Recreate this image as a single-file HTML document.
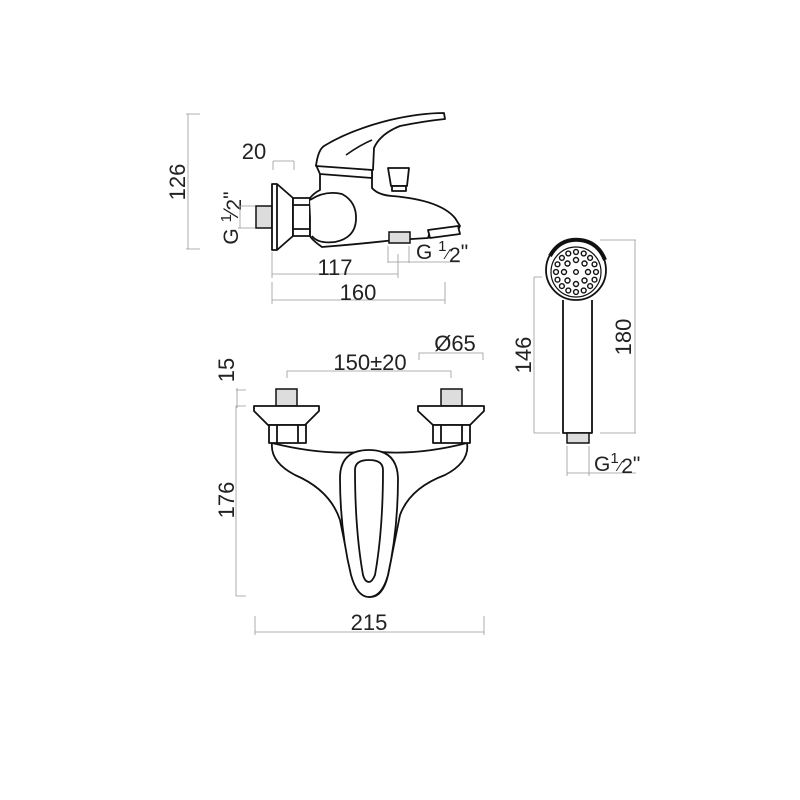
<!DOCTYPE html>
<html><head><meta charset="utf-8"><style>
html,body{margin:0;padding:0;background:#fff;}
svg{display:block;}
text{font-family:"Liberation Sans",Arial,sans-serif;fill:#222;}
.d{stroke:#999;stroke-width:0.8;fill:none;}
.o{stroke:#111;stroke-width:1.8;fill:#fff;stroke-linejoin:round;}
.g{stroke:#111;stroke-width:1.5;fill:#ddd;}
</style></head><body>
<svg width="800" height="800" viewBox="0 0 800 800" xmlns="http://www.w3.org/2000/svg">
<!-- ========== SIDE VIEW ========== -->
<path class="d" d="M186 114H200M188 114V249M186 249H200"/>
<text font-size="22" transform="translate(185,182) rotate(-90)" text-anchor="middle">126</text>
<text x="254" y="159" font-size="22" text-anchor="middle">20</text>
<path class="d" d="M273 161H294M273 161V170M294 161V170"/>
<text font-size="21" transform="translate(238,218) rotate(-90)" text-anchor="middle">G <tspan dy="-7" font-size="15">1</tspan><tspan dy="7">⁄</tspan><tspan dy="3">2</tspan><tspan dy="-3">"</tspan></text>
<path class="d" d="M238 206H256M238 228H256M240 206V228"/>
<path class="d" d="M272 252V278M272 274H398M398 254V278"/>
<text x="335" y="275" font-size="22" text-anchor="middle">117</text>
<path class="d" d="M388 246V263M388 262H460M409 246V263"/>
<text x="416" y="259" font-size="21">G <tspan dy="-8" font-size="15">1</tspan><tspan dy="8" font-size="15">⁄</tspan><tspan dy="3">2</tspan><tspan dy="-3">"</tspan></text>
<path class="d" d="M272 282V304M272 300H445M445 282V304"/>
<text x="358" y="300" font-size="22" text-anchor="middle">160</text>
<rect class="g" x="256" y="206" width="16" height="22"/>
<path class="o" d="M272 184H277L293 198V236L277 250H272Z"/>
<path class="o" d="M277 184V250" />
<rect class="o" x="293" y="198" width="17" height="38"/>
<path class="o" d="M293 205H310M293 229H310"/>
<path class="o" d="M320 172H372V188Q378 195 392 196Q440 200 455 218L460 226L458 230L430 232L428 238L395 240Q360 244 322 247Q312 240 310 236V198Q314 193 320 190Z"/>
<path class="o" d="M310 200Q325 190 342 194Q357 202 356 220Q355 238 335 242Q318 244 312 236"/>
<path class="o" d="M428 230L458 226L460 234L430 238Z"/>
<rect class="g" x="389" y="232" width="21" height="11"/>
<path class="o" d="M388 168H409L407 186H391Z"/>
<rect class="o" x="392" y="186" width="14" height="5"/>
<path class="o" d="M316 165L372 170V178L320 174Z"/>
<path class="o" d="M316 166Q318 150 324 146Q350 130 390 120Q420 113 444 113L445 119Q425 121 400 126Q380 134 374 148L373 170Z"/>
<path d="M346 155Q360 145 372 140" stroke="#111" stroke-width="1.5" fill="none"/>

<!-- ========== FRONT VIEW ========== -->
<text x="370" y="370" font-size="22" text-anchor="middle">150±20</text>
<path class="d" d="M287 378V371H451V378"/>
<text x="455" y="351" font-size="22" text-anchor="middle">Ø65</text>
<path class="d" d="M419 360V353H483V360"/>
<text font-size="22" transform="translate(234,370) rotate(-90)" text-anchor="middle">15</text>
<path class="d" d="M236 390H246M236 406H246M237 388V408"/>
<text font-size="22" transform="translate(234,500) rotate(-90)" text-anchor="middle">176</text>
<path class="d" d="M236 406V596M236 596H246"/>
<path class="d" d="M255 616V635M255 632H484M484 616V635"/>
<text x="369" y="630" font-size="22" text-anchor="middle">215</text>
<path class="o" d="M272 443Q270 462 295 475Q330 490 340 520Q348 560 352 575Q358 597 370 597Q383 597 388 575Q393 550 400 515Q410 488 445 475Q470 462 467 443Q420 455 380 452L360 452Q320 455 272 443Z"/>
<path class="o" d="M340 478Q340 450 369 450Q397 450 398 478Q398 530 388 575Q382 597 369 597Q357 597 351 575Q340 530 340 478Z"/>
<path class="o" d="M355 470Q355 460 369 460Q383 460 383 470Q383 530 375 575Q372 582 369 582Q365 582 363 575Q355 530 355 470Z"/>
<rect class="g" x="276" y="389" width="21" height="17"/>
<path class="o" d="M254 406H319V411L305 425H268L254 411Z"/>
<rect class="o" x="269" y="425" width="37" height="18"/>
<path class="o" d="M277 425V443M298 425V443"/>
<rect class="g" x="441" y="389" width="21" height="17"/>
<path class="o" d="M418 406H484V411L470 425H433L418 411Z"/>
<rect class="o" x="433" y="425" width="37" height="18"/>
<path class="o" d="M441 425V443M462 425V443"/>

<!-- ========== HAND SHOWER ========== -->
<path class="o" d="M563 300V433H592V300"/>
<circle class="o" cx="576" cy="270" r="30"/>
<path d="M550 256Q560 238 580 240Q598 242 605 260" stroke="#111" stroke-width="4" fill="none"/>
<circle cx="576" cy="272" r="25" fill="#fff" stroke="#111" stroke-width="1.2"/>
<g fill="#fff" stroke="#111" stroke-width="1.4">
<circle cx="576" cy="272" r="2.3"/>
<circle cx="588" cy="272" r="2.5"/><circle cx="564" cy="272" r="2.5"/>
<circle cx="576" cy="260" r="2.5"/><circle cx="576" cy="284" r="2.5"/>
<circle cx="584.5" cy="263.5" r="2.5"/><circle cx="567.5" cy="263.5" r="2.5"/>
<circle cx="584.5" cy="280.5" r="2.5"/><circle cx="567.5" cy="280.5" r="2.5"/>
<circle cx="596" cy="272" r="2.4"/><circle cx="556" cy="272" r="2.4"/>
<circle cx="576" cy="252" r="2.4"/><circle cx="576" cy="292" r="2.4"/>
<circle cx="583.7" cy="253.5" r="2.4"/><circle cx="568.3" cy="253.5" r="2.4"/>
<circle cx="583.7" cy="290.5" r="2.4"/><circle cx="568.3" cy="290.5" r="2.4"/>
<circle cx="590.1" cy="257.9" r="2.4"/><circle cx="561.9" cy="257.9" r="2.4"/>
<circle cx="590.1" cy="286.1" r="2.4"/><circle cx="561.9" cy="286.1" r="2.4"/>
<circle cx="594.5" cy="264.3" r="2.4"/><circle cx="557.5" cy="264.3" r="2.4"/>
<circle cx="594.5" cy="279.7" r="2.4"/><circle cx="557.5" cy="279.7" r="2.4"/>
</g>
<rect class="g" x="567" y="433" width="22" height="10"/>
<path class="d" d="M534 277H542M534 277V433M534 433H560"/>
<text font-size="22" transform="translate(531,355) rotate(-90)" text-anchor="middle">146</text>
<path class="d" d="M600 240H636M635 240V433M600 433H636"/>
<text font-size="22" transform="translate(631,337) rotate(-90)" text-anchor="middle">180</text>
<path class="d" d="M567 446V476M567 473H636M589 446V476"/>
<text x="594" y="471" font-size="21">G<tspan dy="-8" font-size="15">1</tspan><tspan dy="8" font-size="15">⁄</tspan><tspan dy="2">2</tspan><tspan dy="-2">"</tspan></text>
</svg>
</body></html>
